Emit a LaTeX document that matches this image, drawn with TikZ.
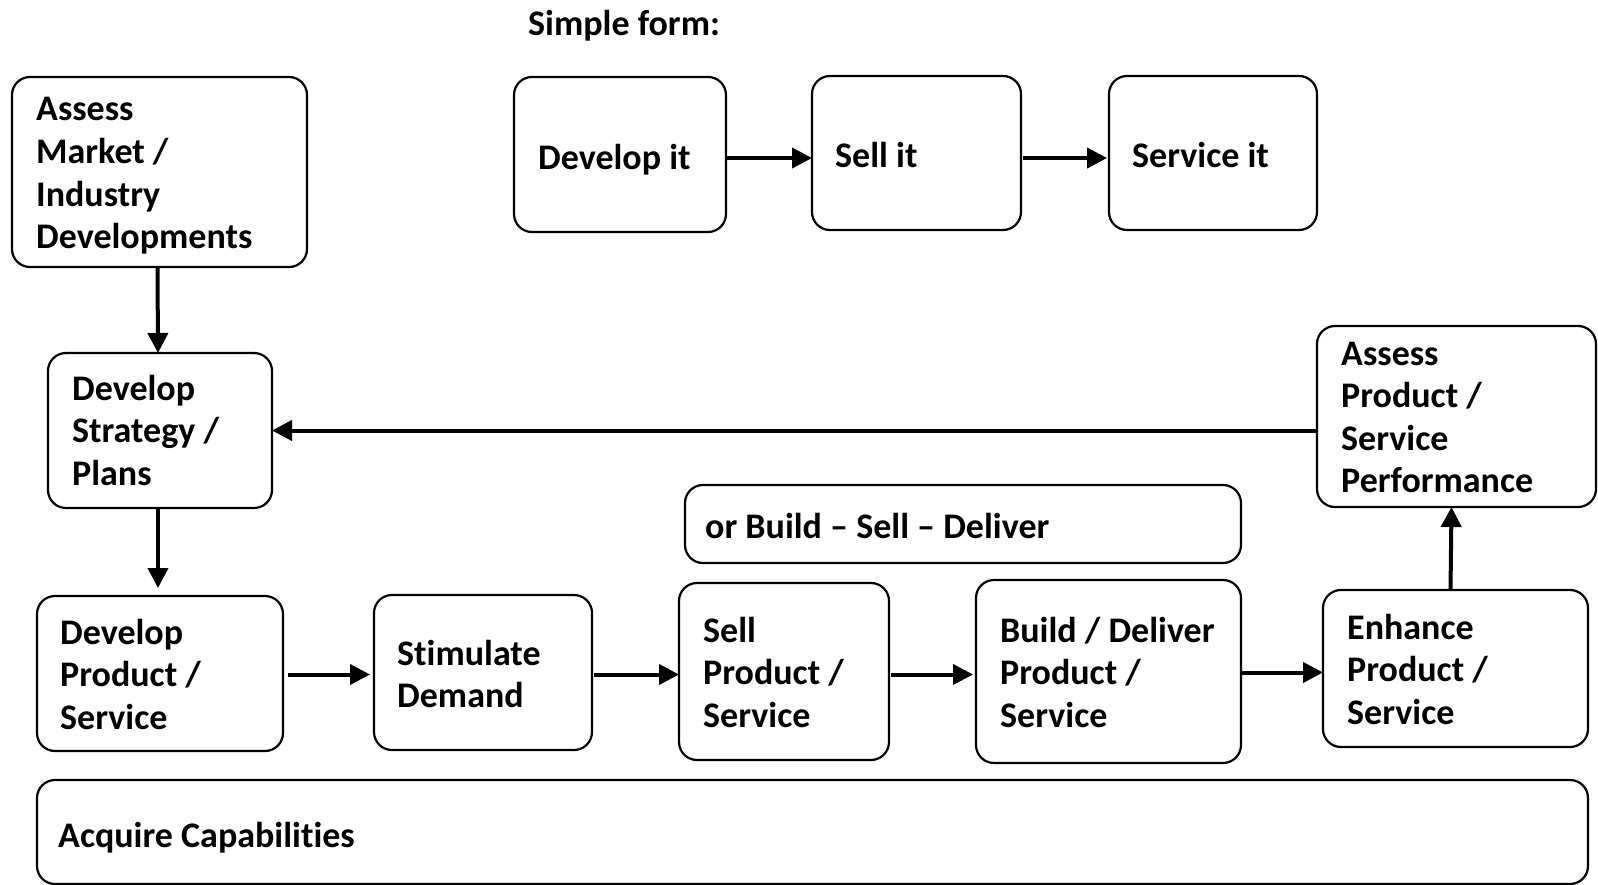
\documentclass[tikz,border=0pt]{standalone}
\usepackage{fontspec}
\setmainfont{Carlito}[Ligatures=NoCommon]
\usetikzlibrary{arrows.meta}
\newcommand\myboxfont{\bfseries\fontsize{36}{42.6}\selectfont}
\begin{document}
\begin{tikzpicture}[x=1pt,y=-1pt,
  box/.style={draw, line width=2.2pt, rounded corners=18pt, anchor=north west, inner sep=0pt, outer sep=0pt},
  txt/.style={anchor=base west, inner sep=0pt, align=flush left, text width=500pt, font=\myboxfont},
  arr/.style={line width=4pt, -{Triangle[length=20pt,width=20pt]}}]
\useasboundingbox (0,0) rectangle (1598,885);
% boxes
\node[box, minimum width=295pt, minimum height=190pt] (A) at (12,77) {};
\node[box, minimum width=224pt, minimum height=155pt] (B) at (48,353) {};
\node[box, minimum width=246pt, minimum height=155pt] (C) at (37,596) {};
\node[box, minimum width=218pt, minimum height=155pt] (D) at (374,595) {};
\node[box, minimum width=556pt, minimum height=78pt] (G) at (685,485) {};
\node[box, minimum width=210pt, minimum height=177pt] (H) at (679,583) {};
\node[box, minimum width=265pt, minimum height=183pt] (I) at (976,580) {};
\node[box, minimum width=265pt, minimum height=157pt] (F) at (1323,590) {};
\node[box, minimum width=279pt, minimum height=181pt] (E) at (1317,326) {};
\node[box, minimum width=212pt, minimum height=155pt] (J) at (514,77) {};
\node[box, minimum width=209pt, minimum height=154pt] (K) at (812,76) {};
\node[box, minimum width=208pt, minimum height=154pt] (L) at (1109,76) {};
\node[box, minimum width=1551pt, minimum height=104pt] (M) at (37,780) {};
% texts
\node[txt] (tsf) at (528,36) {Simple form:};
\node[txt] (tA) at (36,121) {Assess\\Market /\\Industry\\Developments};
\node[txt] (tB) at (72,400) {Develop\\Strategy /\\Plans};
\node[txt] (tC) at (60,644) {Develop\\Product /\\Service};
\node[txt] (tD) at (397,665) {Stimulate\\Demand};
\node[txt] (tG) at (705,538) {or Build – Sell – Deliver};
\node[txt] (tH) at (703,642) {Sell\\Product /\\Service};
\node[txt] (tI) at (1000,642) {Build / Deliver\\Product /\\Service};
\node[txt] (tF) at (1347,639) {Enhance\\Product /\\Service};
\node[txt] (tE) at (1341,365) {Assess\\Product /\\Service\\Performance};
\node[txt] (tJ) at (538,170) {Develop it};
\node[txt] (tK) at (835,168) {Sell it};
\node[txt] (tL) at (1132,168) {Service it};
\node[txt] (tM) at (58,847) {Acquire Capabilities};
% arrows
\draw[arr] ([xshift=-2pt]A.south) -- ([xshift=-2pt]B.north);
\draw[arr, shorten >=8pt] ([xshift=-2pt]B.south) -- ([xshift=-2pt]C.north);
\draw[arr] (E.west |- B.east) -- (B.east);
\draw[arr] ([xshift=-5pt]F.north) -- ([xshift=-5pt]E.south);
\draw[arr, shorten <=5pt, shorten >=4pt] ([yshift=-1pt]C.east) -- ([yshift=-1pt]D.west |- C.east);
\draw[arr, shorten <=2pt] ([yshift=-2pt]D.east) -- ([yshift=-2pt]H.west |- D.east);
\draw[arr, shorten <=2pt, shorten >=3pt] ([yshift=-3pt]H.east) -- ([yshift=-3pt]I.west |- H.east);
\draw[arr] ([yshift=-1pt]I.east) -- ([yshift=-1pt]F.west |- I.east);
\draw[arr] ([yshift=-3.5pt]J.east) -- ([yshift=-3.5pt]K.west |- J.east);
\draw[arr, shorten <=2pt, shorten >=2pt] ([yshift=-5pt]K.east) -- ([yshift=-5pt]L.west |- K.east);
\end{tikzpicture}
\end{document}
